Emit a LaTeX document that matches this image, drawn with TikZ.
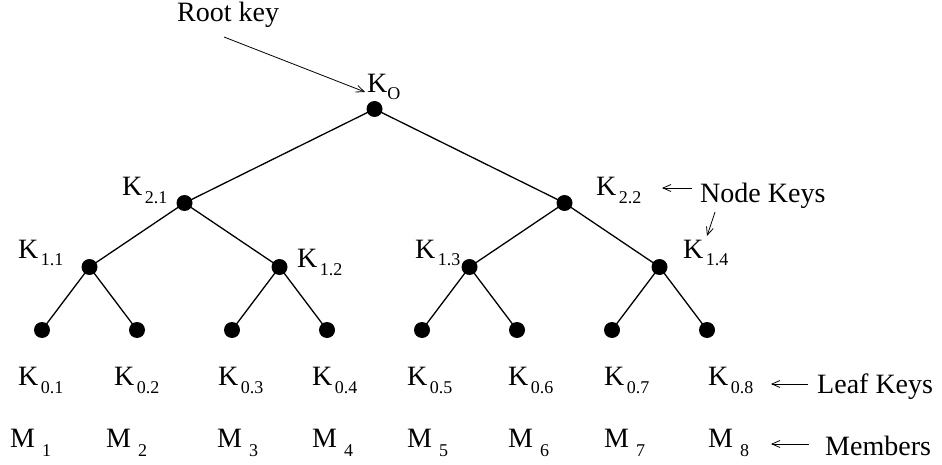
\documentclass[tikz,border=0pt]{standalone}
\usepackage{fontspec}
\setmainfont{Liberation Serif}
\usetikzlibrary{arrows.meta}
\newcommand\kk[1]{K\kern2.5pt\raisebox{-8pt}{\fontsize{18}{18}\selectfont #1}}
\newcommand\mm[1]{M\kern7pt\raisebox{-9pt}{\fontsize{18}{18}\selectfont #1}}
\begin{document}
\begin{tikzpicture}[x=1pt,y=-1pt,
  dot/.style={circle,fill=black,inner sep=0pt,minimum size=16pt},
  lbl/.style={anchor=base west,inner sep=0pt,font=\fontsize{28}{30}\selectfont},
  edge/.style={line width=1.3pt},
  pointer/.style={line width=0.8pt,-{Straight Barb[length=8pt,width=7pt]}}]
\useasboundingbox (0,0) rectangle (942,465);
% tree nodes
\node[dot] (r) at (374.5,109) {};
\node[dot] (a1) at (184.5,203) {};
\node[dot] (a2) at (564.5,203) {};
\node[dot] (b1) at (89.5,267) {};
\node[dot] (b2) at (279.5,267) {};
\node[dot] (b3) at (469.5,267) {};
\node[dot] (b4) at (659.5,267) {};
\foreach \i/\x in {1/42,2/137,3/232,4/327,5/422,6/517,7/612,8/707}
  \node[dot] (l\i) at (\x,330) {};
% edges
\draw[edge] (r.center) -- (a1.center);
\draw[edge] (r.center) -- (a2.center);
\draw[edge] (a1.center) -- (b1.center);
\draw[edge] (a1.center) -- (b2.center);
\draw[edge] (a2.center) -- (b3.center);
\draw[edge] (a2.center) -- (b4.center);
\draw[edge] (b1.center) -- (l1.center);
\draw[edge] (b1.center) -- (l2.center);
\draw[edge] (b2.center) -- (l3.center);
\draw[edge] (b2.center) -- (l4.center);
\draw[edge] (b3.center) -- (l5.center);
\draw[edge] (b3.center) -- (l6.center);
\draw[edge] (b4.center) -- (l7.center);
\draw[edge] (b4.center) -- (l8.center);
% key labels
\node[lbl] (kr) at (367,93) {K\raisebox{-7pt}{\fontsize{18}{18}\selectfont O}};
\node[lbl] (k21) at (122,196) {\kk{2.1}};
\node[lbl] (k22) at (596,196) {\kk{2.2}};
\node[lbl] (k11) at (18,258) {\kk{1.1}};
\node[lbl] (k12) at (297,267) {\kk{1.2}};
\node[lbl] (k13) at (415,258) {\kk{1.3}};
\node[lbl] (k14) at (683,258) {\kk{1.4}};
\foreach \i/\x in {1/18,2/114,3/218,4/312,5/407,6/508,7/604,8/708}
  \node[lbl] (k0\i) at (\x,385) {\kk{0.\i}};
\foreach \i/\x in {1/10,2/106,3/217,4/312,5/407,6/508,7/604,8/708}
  \node[lbl] (m\i) at (\x,447) {\mm{\i}};
% annotations
\node[lbl] (rootkey) at (177,22) {Root key};
\node[lbl] (nodekeys) at (700,203) {Node Keys};
\node[lbl] (leafkeys) at (817,393) {Leaf Keys};
\node[lbl] (members) at (825,455) {Members};
\coordinate (rs) at (224,37);
\coordinate (re) at (365,92);
\coordinate (ns1) at (692,188);
\coordinate (ne1) at (662,188);
\coordinate (ns2) at (715,212);
\coordinate (ne2) at (707,236);
\coordinate (ls) at (808,384);
\coordinate (le) at (771,384);
\coordinate (ms) at (809,444);
\coordinate (me) at (771,444);
\draw[pointer] (rs) -- (re);
\draw[pointer] (ns1) -- (ne1);
\draw[pointer] (ns2) -- (ne2);
\draw[pointer] (ls) -- (le);
\draw[pointer] (ms) -- (me);
\end{tikzpicture}
\end{document}
